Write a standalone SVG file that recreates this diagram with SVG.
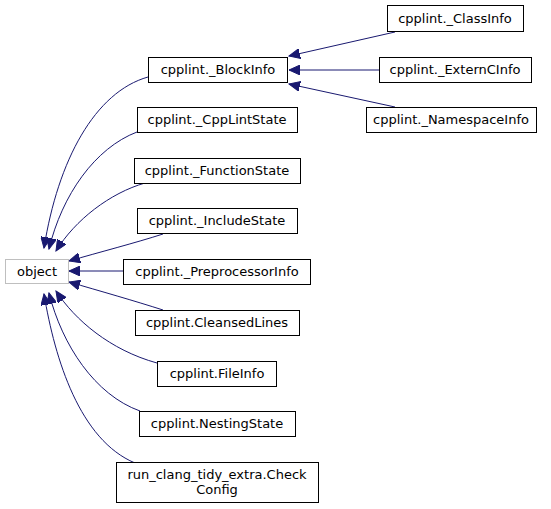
<svg xmlns="http://www.w3.org/2000/svg" width="551" height="509" viewBox="0 0 551 509">
<style>
.n rect{fill:#fff;stroke:#000;stroke-width:1}
.g rect{stroke:#bfbfbf}
text{font-family:"DejaVu Sans",sans-serif;font-size:13px;text-anchor:middle;fill:#000}
.e path{fill:none;stroke:#191970;stroke-width:1}
</style>
<defs>
<marker id="a" markerWidth="12" markerHeight="10" refX="11" refY="5" orient="auto" markerUnits="userSpaceOnUse">
<path d="M0,0 L11,5 L0,10 Z" fill="#191970" stroke="#191970"/>
</marker>
</defs>
<rect width="551" height="509" fill="#fff"/>
<g class="e">
<path d="M148,77 C95,92 58,160 44,248" marker-end="url(#a)"/>
<path d="M137,132 C95,148 62,195 49,249" marker-end="url(#a)"/>
<path d="M145,183 C110,193 75,220 56,251" marker-end="url(#a)"/>
<path d="M163,234 C135,243 100,252 69,261" marker-end="url(#a)"/>
<path d="M123,271 L69,271" marker-end="url(#a)"/>
<path d="M163,310 C135,301 100,291 69,282" marker-end="url(#a)"/>
<path d="M157,363 C110,350 75,320 56,291" marker-end="url(#a)"/>
<path d="M140,411 C95,395 62,345 49,293" marker-end="url(#a)"/>
<path d="M135,463 C80,440 55,360 44,294" marker-end="url(#a)"/>
<path d="M395,32 L289,56" marker-end="url(#a)"/>
<path d="M379,70 L289,70" marker-end="url(#a)"/>
<path d="M395,107 L289,84" marker-end="url(#a)"/>
</g>
<g id="object" class="n g"><rect x="5.5" y="259.5" width="63" height="24"/><text x="37" y="276">object</text></g>
<g id="BlockInfo" class="n"><rect x="148.5" y="57.5" width="139" height="25"/><text x="218" y="74">cpplint._BlockInfo</text></g>
<g id="CppLintState" class="n"><rect x="137.5" y="107.5" width="160" height="25"/><text x="217" y="124">cpplint._CppLintState</text></g>
<g id="FunctionState" class="n"><rect x="134.5" y="158.5" width="166" height="25"/><text x="217" y="175">cpplint._FunctionState</text></g>
<g id="IncludeState" class="n"><rect x="137.5" y="208.5" width="160" height="25"/><text x="217" y="225">cpplint._IncludeState</text></g>
<g id="PreprocessorInfo" class="n"><rect x="123.5" y="259.5" width="187" height="25"/><text x="217" y="276">cpplint._PreprocessorInfo</text></g>
<g id="CleansedLines" class="n"><rect x="135.5" y="310.5" width="164" height="25"/><text x="217" y="327">cpplint.CleansedLines</text></g>
<g id="FileInfo" class="n"><rect x="157.5" y="361.5" width="119" height="25"/><text x="217" y="378">cpplint.FileInfo</text></g>
<g id="NestingState" class="n"><rect x="139.5" y="411.5" width="156" height="25"/><text x="217" y="428">cpplint.NestingState</text></g>
<g id="CheckConfig" class="n"><rect x="116.5" y="462.5" width="202" height="40"/><text x="217" y="479">run_clang_tidy_extra.Check</text><text x="217" y="494">Config</text></g>
<g id="ClassInfo" class="n"><rect x="387.5" y="5.5" width="136" height="26"/><text x="455" y="23">cpplint._ClassInfo</text></g>
<g id="ExternCInfo" class="n"><rect x="379.5" y="57.5" width="152" height="25"/><text x="455" y="74">cpplint._ExternCInfo</text></g>
<g id="NamespaceInfo" class="n"><rect x="366.5" y="107.5" width="170" height="25"/><text x="451" y="124">cpplint._NamespaceInfo</text></g>
</svg>
